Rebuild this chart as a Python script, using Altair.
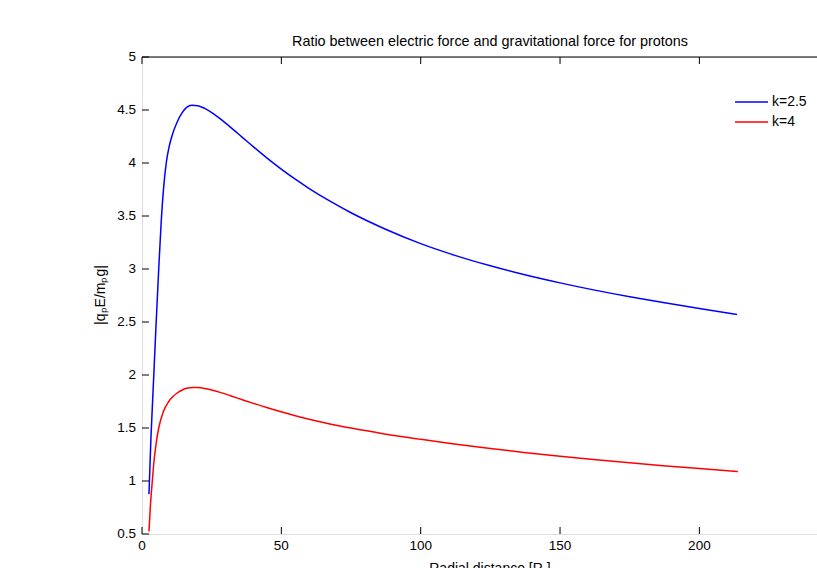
import altair as alt
import pandas as pd

# Radial distance [R_s] and |q_p E / m_p g| for the two kappa values
r_k25 = [2.5, 3.2, 4.2, 5.0, 6.0, 6.9, 7.8, 8.7, 9.7, 10.8, 12.5, 14.3, 16.0, 17.9,
         20.0, 22.5, 25.7, 28.0, 31.7, 36.0, 40.0, 45.0, 49.6, 55.0, 60.0, 67.0, 75.0,
         87.0, 100.0, 112.0, 125.0, 137.0, 150.0, 162.0, 175.0, 187.0, 200.0, 213.5]
ratio_k25 = [0.875, 1.40, 1.98, 2.45, 3.00, 3.45, 3.78, 4.00, 4.15, 4.26, 4.38, 4.47, 4.525, 4.545,
             4.541, 4.515, 4.463, 4.418, 4.339, 4.242, 4.152, 4.044, 3.950, 3.847, 3.759, 3.647, 3.531,
             3.380, 3.239, 3.131, 3.030, 2.948, 2.869, 2.803, 2.738, 2.683, 2.627, 2.571]

r_k4 = [2.5, 3.0, 3.7, 4.2, 5.0, 6.0, 7.6, 9.6, 11.0, 12.5, 15.0, 16.5, 18.0, 20.0, 22.5,
        25.7, 28.0, 31.7, 36.0, 40.0, 45.0, 49.6, 55.0, 60.0, 67.0, 75.0, 87.0, 100.0,
        112.0, 125.0, 137.0, 150.0, 162.0, 175.0, 187.0, 200.0, 213.8]
ratio_k4 = [0.523, 0.76, 1.00, 1.16, 1.34, 1.50, 1.65, 1.75, 1.795, 1.828, 1.865, 1.877, 1.883, 1.881, 1.872,
            1.853, 1.836, 1.805, 1.767, 1.732, 1.691, 1.655, 1.616, 1.583, 1.541, 1.499, 1.444, 1.393,
            1.349, 1.306, 1.270, 1.234, 1.203, 1.172, 1.145, 1.117, 1.089]

series_names = ["k=2.5", "k=4"]
series_colors = ["#0000ff", "#ff0000"]

x_ticks = [0, 50, 100, 150, 200]
y_ticks = [0.5, 1, 1.5, 2, 2.5, 3, 3.5, 4, 4.5, 5]

title_text = "Ratio between electric force and gravitational force for protons"
x_title = "Radial distance [Rₛ]"
y_title = "|qₚE/mₚg|"

curves = pd.concat([
    pd.DataFrame({"r": r_k25, "ratio": ratio_k25, "series": series_names[0]}),
    pd.DataFrame({"r": r_k4, "ratio": ratio_k4, "series": series_names[1]}),
])
xtick_df = pd.DataFrame({"r": x_ticks, "label": [f"{v:g}" for v in x_ticks]})
ytick_df = pd.DataFrame({"v": y_ticks, "label": [f"{v:g}" for v in y_ticks]})

W, H = 675, 477
FONT = "Liberation Sans"
TICK = 7

xscale = alt.Scale(domain=[0, 242.2], nice=False, zero=False)
yscale = alt.Scale(domain=[0.5, 5], nice=False, zero=False)
cscale = alt.Scale(domain=series_names, range=series_colors)

lines = alt.Chart(curves).mark_line(strokeWidth=1.5, interpolate="monotone").encode(
    x=alt.X("r:Q", scale=xscale,
            axis=alt.Axis(values=x_ticks, title=None, ticks=False, grid=False, labels=False,
                          domainColor="black", domainWidth=1.2)),
    y=alt.Y("ratio:Q", scale=yscale,
            axis=alt.Axis(values=y_ticks, title=None, ticks=False, grid=False, labels=False,
                          domainColor="#222222", domainWidth=2)),
    color=alt.Color("series:N", scale=cscale, legend=None),
)

one = pd.DataFrame({"k": [0]})

# inward tick marks on bottom, top and left edges
xt = alt.Chart(xtick_df)
yt = alt.Chart(ytick_df)
bottom_ticks = xt.mark_rule(color="black", strokeWidth=1).encode(
    x=alt.X("r:Q", scale=xscale, axis=None), y=alt.value(H), y2=alt.value(H - TICK))
top_ticks = xt.mark_rule(color="black", strokeWidth=1).encode(
    x=alt.X("r:Q", scale=xscale, axis=None), y=alt.value(0), y2=alt.value(TICK))
left_ticks = yt.mark_rule(color="black", strokeWidth=1).encode(
    y=alt.Y("v:Q", scale=yscale, axis=None), x=alt.value(0), x2=alt.value(TICK))

# tick labels
x_tick_labels = xt.mark_text(font=FONT, fontSize=13.5, color="black",
                             align="center", baseline="top").encode(
    x=alt.X("r:Q", scale=xscale, axis=None), y=alt.value(H + 5), text="label:N")
y_tick_labels = yt.mark_text(font=FONT, fontSize=13.5, color="black",
                             align="right", baseline="middle").encode(
    y=alt.Y("v:Q", scale=yscale, axis=None), x=alt.value(-6), text="label:N")

top_border = alt.Chart(one).mark_rule(color="black", strokeWidth=1.2).encode(
    x=alt.value(0), x2=alt.value(W), y=alt.value(0))

y_label = alt.Chart(one).mark_text(
    text=y_title, angle=270, font=FONT, fontSize=14, color="black",
    align="center", baseline="middle").encode(x=alt.value(-41), y=alt.value(238))

x_label = alt.Chart(one).mark_text(
    text=x_title, font=FONT, fontSize=14, color="black",
    align="center", baseline="top").encode(x=alt.value(348), y=alt.value(H + 28))

# legend: short line sample plus label for each series
legend_layers = []
for i, (name, col) in enumerate(zip(series_names, series_colors)):
    yy = 45 + 20 * i
    legend_layers.append(alt.Chart(one).mark_rule(color=col, strokeWidth=1.5).encode(
        x=alt.value(593), x2=alt.value(626), y=alt.value(yy)))
    legend_layers.append(alt.Chart(one).mark_text(
        text=name, font=FONT, fontSize=14, color="black", align="left",
        baseline="middle").encode(x=alt.value(630), y=alt.value(yy)))

chart = alt.layer(
    lines, bottom_ticks, top_ticks, left_ticks, x_tick_labels, y_tick_labels,
    top_border, y_label, x_label, *legend_layers
).properties(
    width=W, height=H,
    title=alt.TitleParams(title_text, font=FONT, fontSize=14.4, fontWeight="normal",
                          color="black", anchor="middle", dx=10.5, offset=1),
    autosize=alt.AutoSizeParams(type="none"),
    padding={"left": 142, "top": 57, "right": 0, "bottom": 34},
).configure_view(stroke=None).configure(background="white")

chart.save("out.html", embed_options={"renderer": "svg", "actions": False})
